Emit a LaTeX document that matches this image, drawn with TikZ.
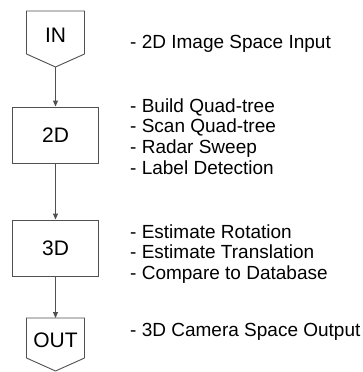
\documentclass[tikz,border=0pt]{standalone}
\usepackage{fontspec}
\setmainfont{Liberation Sans}
\usetikzlibrary{arrows.meta,calc}
\definecolor{linegray}{HTML}{505050}
\begin{document}
\begin{tikzpicture}[x=1pt,y=-1pt,
  shp/.style={draw=linegray, line width=0.9pt, fill=white},
  boxlbl/.style={font=\fontsize{21}{24}\selectfont, inner sep=0pt},
  note/.style={font=\fontsize{19}{20.7}\selectfont, align=left, anchor=base west, inner sep=0pt},
  flow/.style={draw=linegray, line width=0.9pt, -{Triangle[length=6pt,width=5pt]}}]
\useasboundingbox[fill=white] (0,0) rectangle (363,372);
% IN
\draw[shp] (26.5,11) -- (84.5,11) -- (84.5,54) -- (55.5,67) -- (26.5,54) -- cycle;
\coordinate (intip) at (55.5,67);
\node[boxlbl] (in) at (55.5,35.5) {IN};
% 2D
\node[shp, boxlbl, minimum width=86pt, minimum height=56pt] (b2d) at (55.5,135) {2D};
% 3D
\node[shp, boxlbl, minimum width=86pt, minimum height=56pt] (b3d) at (55.5,248) {3D};
% OUT
\draw[shp] (26.5,318) -- (84.5,318) -- (84.5,358) -- (55.5,371) -- (26.5,358) -- cycle;
\coordinate (outtop) at (55.5,318);
\node[boxlbl] (out) at (55.5,340) {OUT};
% connectors
\draw[flow] (intip) -- (b2d.north);
\draw[flow] (b2d.south) -- (b3d.north);
\draw[flow] (b3d.south) -- (outtop);
% notes (base anchor = baseline of last line)
\node[note] (n1) at (130,48) {- 2D Image Space Input};
\node[note] (n2) at (130,174.1) {- Build Quad-tree\\- Scan Quad-tree\\- Radar Sweep\\- Label Detection};
\node[note] (n3) at (130,279.4) {- Estimate Rotation\\- Estimate Translation\\- Compare to Database};
\node[note] (n4) at (130,336) {- 3D Camera Space Output};
\end{tikzpicture}
\end{document}
